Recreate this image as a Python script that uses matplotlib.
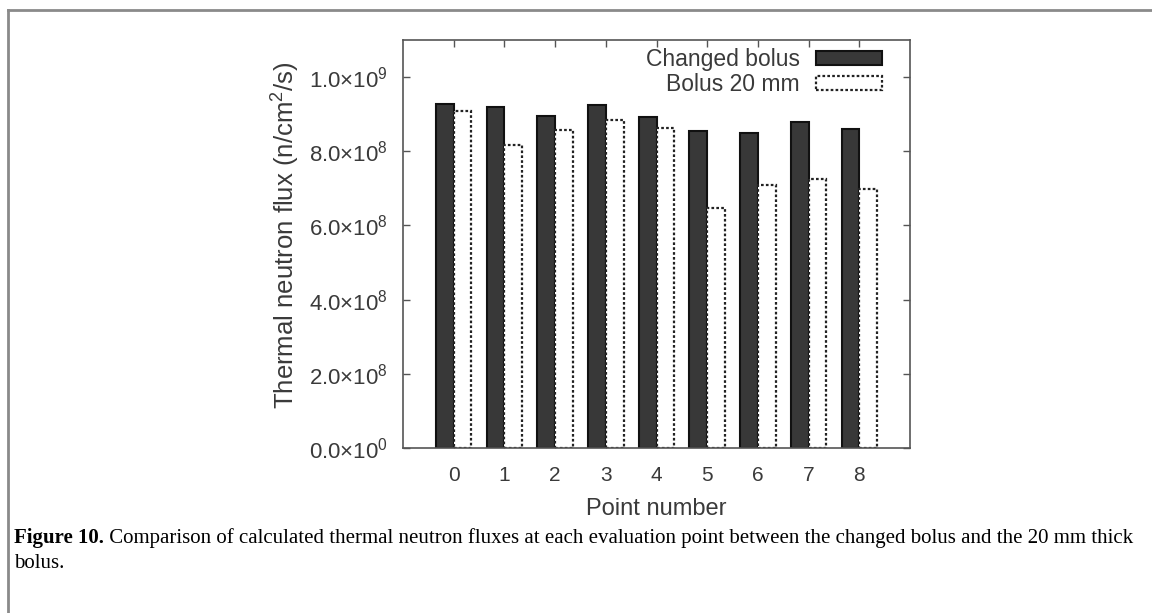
import matplotlib
matplotlib.use("Agg")
import matplotlib.pyplot as plt
import numpy as np
from matplotlib.lines import Line2D

# ---- data ----
points = [0, 1, 2, 3, 4, 5, 6, 7, 8]
changed_bolus = [9.27e8, 9.19e8, 8.95e8, 9.25e8, 8.92e8, 8.55e8, 8.50e8, 8.80e8, 8.61e8]
bolus_20mm = [9.08e8, 8.16e8, 8.58e8, 8.85e8, 8.62e8, 6.48e8, 7.09e8, 7.25e8, 6.98e8]
series_names = ["Changed bolus", "Bolus 20 mm"]
ytick_values = [0, 2e8, 4e8, 6e8, 8e8, 1e9]
ytick_labels = [r"$\mathregular{0.0{\times}10^{0}}$", r"$\mathregular{2.0{\times}10^{8}}$",
                r"$\mathregular{4.0{\times}10^{8}}$", r"$\mathregular{6.0{\times}10^{8}}$",
                r"$\mathregular{8.0{\times}10^{8}}$", r"$\mathregular{1.0{\times}10^{9}}$"]
xlabel = "Point number"
ylabel = r"Thermal neutron flux (n/cm$^{\mathregular{2}}$/s)"
caption_bold = "Figure 10."
caption_rest = (" Comparison of calculated thermal neutron fluxes at each evaluation point "
                "between the changed bolus and the 20 mm thick")
caption_line2 = "bolus."

plt.rcParams["font.family"] = ["Liberation Sans", "DejaVu Sans"]
plt.rcParams["mathtext.fontset"] = "custom"
plt.rcParams["mathtext.rm"] = "Liberation Sans"
plt.rcParams["mathtext.it"] = "Liberation Sans:italic"
plt.rcParams["mathtext.bf"] = "Liberation Sans:bold"

W, H = 1152, 613
fig = plt.figure(figsize=(W / 100, H / 100), dpi=100)
ax = fig.add_axes([403 / W, 1 - 448 / H, (910 - 403) / W, (448 - 40) / H])

text_col = "#3a3a3a"
spine_col = "#555555"
bw = 0.35
x = np.array(points)
ax.bar(x - bw / 2, changed_bolus, width=bw, color="#383838", edgecolor="#111111",
       linewidth=1.5, label=series_names[0], zorder=2)
ax.bar(x + bw / 2, bolus_20mm, width=bw, color="white", edgecolor="#222222",
       linewidth=1.6, linestyle=(0, (1.2, 1.0)), label=series_names[1], zorder=2)

ax.set_xlim(-1, 9)
ax.set_ylim(0, 1.1e9)
ax.set_xticks(points)
ax.set_xticklabels([str(p) for p in points])
ax.set_yticks(ytick_values)
ax.set_yticklabels(ytick_labels)

for s in ax.spines.values():
    s.set_color(spine_col)
    s.set_linewidth(1.2)

ax.tick_params(axis="both", which="both", direction="in", length=5, width=1,
               color=spine_col, top=True, right=True, labelcolor=text_col)
ax.tick_params(axis="x", pad=13, labelsize=15)
ax.tick_params(axis="y", pad=11, labelsize=16)

ax.set_xlabel(xlabel, fontsize=17, color=text_col, labelpad=9)
ax.set_ylabel(ylabel, fontsize=18.5, color=text_col)
ax.yaxis.set_label_coords(-0.200, 0.522)

leg = ax.legend(loc="upper right", bbox_to_anchor=((882 - 403) / 507, (448 - 48) / 408),
                frameon=False, markerfirst=False, fontsize=16.5, handlelength=2.88,
                handleheight=0.6, handletextpad=0.7, labelspacing=0.1,
                borderpad=0, borderaxespad=0)
for t in leg.get_texts():
    t.set_color(text_col)

# outer frame (left and top lines)
fig.add_artist(Line2D([7.5 / W, 7.5 / W], [0, 1 - 9.5 / H], transform=fig.transFigure,
                      color="#8a8a8a", linewidth=2))
fig.add_artist(Line2D([7.5 / W, 1], [1 - 9.5 / H, 1 - 9.5 / H], transform=fig.transFigure,
                      color="#8a8a8a", linewidth=2))

# caption
cap_fs = 15
cap_family = ["Liberation Serif", "DejaVu Serif"]
t1 = fig.text(14 / W, 1 - 538 / H, caption_bold, fontsize=cap_fs, fontweight="bold",
              family=cap_family, va="center", ha="left")
fig.canvas.draw()
bb = t1.get_window_extent()
fig.text(bb.x1 / W, 1 - 538 / H, caption_rest, fontsize=cap_fs,
         family=cap_family, va="center", ha="left")
fig.text(14 / W, 1 - 563 / H, caption_line2, fontsize=cap_fs,
         family=cap_family, va="center", ha="left")

fig.savefig("out.png", dpi=100)
